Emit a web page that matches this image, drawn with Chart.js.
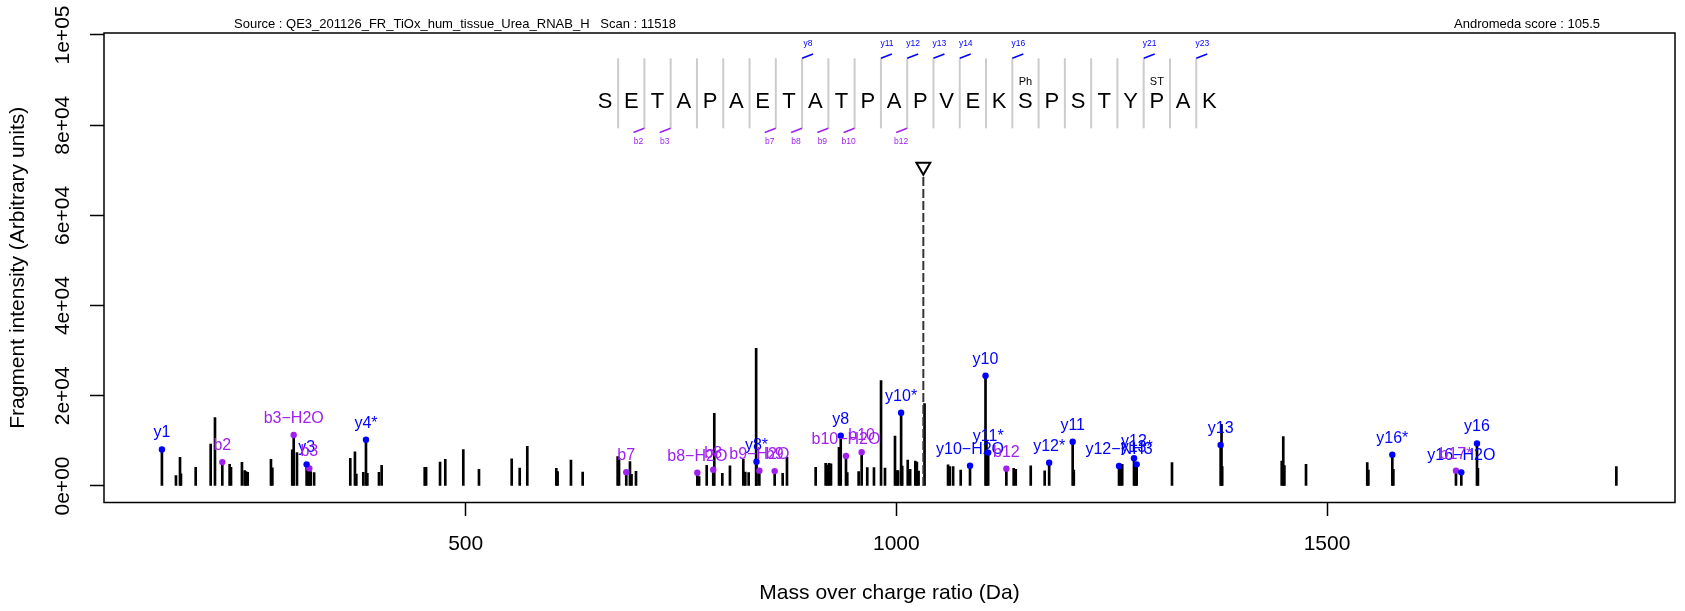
<!DOCTYPE html>
<html>
<head>
<meta charset="utf-8">
<script src="https://cdn.jsdelivr.net/npm/chart.js@4.4.1/dist/chart.umd.min.js"></script>
<style>
  html, body { margin: 0; padding: 0; background: #fff; }
  #wrap { width: 1685px; height: 611px; }
</style>
</head>
<body>
<div id="wrap"><canvas id="spectrum" width="1685" height="611"></canvas></div>
<script>
// Textes
const sourceText = "Source : QE3_201126_FR_TiOx_hum_tissue_Urea_RNAB_H   Scan : 11518";
const scoreText = "Andromeda score : 105.5";
const xTitle = "Mass over charge ratio (Da)";
const yTitle = "Fragment intensity (Arbitrary units)";

// Graduations
const xTickValues = [500, 1000, 1500];
const yTickValues = [0, 20000, 40000, 60000, 80000, 100000];
const yTickLabels = ["0e+00", "2e+04", "4e+04", "6e+04", "8e+04", "1e+05"];

// Pics non annotés
const peakMz = [163.6, 168.3, 169.4, 186.5, 203.9, 208.9, 225.9, 227.5, 240.2, 243.4, 244.9, 246.9,
  273.9, 275.5, 298.6, 304.1, 316.9, 320.0, 324.0, 366.0, 371.4, 373.0, 381.1, 385.8, 399.3, 402.4,
  452.4, 454.0, 470.2, 476.3, 497.2, 515.4, 553.4, 562.7, 571.5, 605.2, 606.7, 622.2, 635.8, 676.4,
  678.0, 690.7, 692.5, 697.7, 771.0, 779.8, 788.6, 797.9, 806.8, 822.3, 824.6, 828.5, 837.2, 868.0,
  873.0, 906.3, 917.9, 919.9, 921.8, 924.1, 933.4, 943.0, 956.2, 966.2, 974.0, 982.2, 986.8, 998.4,
  1000.5, 1002.0, 1006.8, 1013.2, 1016.0, 1022.0, 1023.8, 1025.8, 1032.7, 1060.0, 1062.0, 1065.9,
  1074.7, 1104.6, 1136.2, 1138.6, 1156.0, 1172.2, 1206.0, 1260.3, 1262.2, 1277.5, 1320.0, 1377.5,
  1378.3, 1447.4, 1449.2, 1450.5, 1475.6, 1546.7, 1548.0, 1577.0, 1675.2, 1835.9];
const peakIntensity = [2300, 6350, 2700, 4150, 9300, 15150, 4800, 4150, 5250, 3400, 3200, 3050,
  5900, 4050, 8000, 7400, 3900, 3200, 2950, 6150, 7550, 2650, 3050, 2800, 3050, 4600,
  4150, 4150, 5300, 5900, 8100, 3700, 6000, 4000, 8800, 3900, 3200, 5750, 3100, 6500,
  6100, 5400, 2600, 3250, 2100, 4600, 16100, 2800, 4450, 5900, 3100, 2950, 30500, 2800,
  6350, 4150, 5000, 4650, 5000, 4900, 8550, 2950, 3200, 4100, 4100, 23350, 4000, 11080,
  3400, 3400, 4430, 5760, 3700, 5540, 5300, 3330, 18300, 4700, 4300, 4300,
  3550, 10000, 3900, 3700, 4450, 3350, 3550, 4800, 4800, 5000, 5170, 13700,
  4300, 5540, 10930, 4500, 4800, 5170, 3550, 3700, 3900, 4280];

// Ions y
const yIonLabels = ["y1", "y3", "y4*", "y8*", "y8", "y10*", "y10\u2212H2O", "y10", "y11*", "y12*", "y11",
  "y12\u2212NH3", "y12", "y13*", "y13", "y16*", "y16\u2212H2O", "y16"];
const yIonMz = [147.3, 315.3, 384.2, 837.6, 935.4, 1005.5, 1085.5, 1103.5, 1106.6, 1177.4, 1204.7,
  1258.5, 1275.9, 1279.0, 1376.5, 1575.8, 1655.9, 1674.1];
const yIonIntensity = [8100, 4800, 10250, 5400, 11150, 16250, 4500, 24450, 7400, 5170, 9820,
  4450, 6150, 4800, 9100, 6950, 3030, 9450];

// Ions b
const bIonLabels = ["b2", "b3\u2212H2O", "b3", "b7", "b8\u2212H2O", "b8", "b9\u2212H2O", "b9", "b10\u2212H2O",
  "b10", "b12", "b17*"];
const bIonMz = [217.4, 300.3, 318.4, 686.4, 768.9, 787.4, 840.9, 858.7, 941.5, 959.7, 1127.7, 1649.7];
const bIonIntensity = [5300, 11300, 3900, 3050, 2950, 3600, 3400, 3300, 6650, 7500, 3850, 3400];

// Précurseur
const precursorMz = 1031.3;
const precursorTop = 68500;
const precursorMark = 70800;

// Séquence
const sequence = "SETAPAETATPAPVEKSPSTYPAK".split("");
const seqYIons = [8, 11, 12, 13, 14, 16, 21, 23];
const seqBIons = [2, 3, 7, 8, 9, 10, 12];
const seqModPos = [16, 21];
const seqModLabels = ["Ph", "ST"];

const seqStartMz = 661.7;
const seqStepMz = 30.51;
const seqCenter = 85650;

const FONT = "'Liberation Sans', Arial, Helvetica, sans-serif";
const BLUE = "#0000FF";
const PURPLE = "#A020F0";

const toXY = (xs, ys) => xs.map((v, i) => ({ x: v, y: ys[i] }));

const decorations = {
  id: "decorations",
  afterDraw(chart) {
    const { ctx, chartArea: a, scales: { x, y } } = chart;
    ctx.save();

    // cadre
    ctx.strokeStyle = "#000";
    ctx.lineWidth = 1.5;
    ctx.strokeRect(a.left, a.top, a.right - a.left, a.bottom - a.top);

    // graduations y (texte vertical)
    ctx.fillStyle = "#000";
    ctx.font = "21px " + FONT;
    ctx.textAlign = "center";
    ctx.textBaseline = "middle";
    yTickValues.forEach((v, i) => {
      ctx.save();
      ctx.translate(63, y.getPixelForValue(v));
      ctx.rotate(-Math.PI / 2);
      ctx.fillText(yTickLabels[i], 0, 0);
      ctx.restore();
    });

    // titres des axes
    ctx.save();
    ctx.translate(18, (a.top + a.bottom) / 2);
    ctx.rotate(-Math.PI / 2);
    ctx.fillText(yTitle, 0, 0);
    ctx.restore();
    ctx.fillText(xTitle, (a.left + a.right) / 2, 593);

    // en-tête
    ctx.font = "13px " + FONT;
    ctx.textBaseline = "alphabetic";
    ctx.textAlign = "left";
    ctx.fillText(sourceText, 234, 28);
    ctx.textAlign = "center";
    ctx.fillText(scoreText, 1527, 28);

    // étiquettes des ions
    ctx.font = "16px " + FONT;
    ctx.fillStyle = BLUE;
    yIonLabels.forEach((lab, i) => {
      ctx.fillText(lab, x.getPixelForValue(yIonMz[i]), y.getPixelForValue(yIonIntensity[i]) - 12);
    });
    ctx.fillStyle = PURPLE;
    bIonLabels.forEach((lab, i) => {
      ctx.fillText(lab, x.getPixelForValue(bIonMz[i]), y.getPixelForValue(bIonIntensity[i]) - 12);
    });

    // séquence peptidique
    const cy = y.getPixelForValue(seqCenter);
    const cx = i => x.getPixelForValue(seqStartMz + i * seqStepMz);
    const sepX = k => (cx(k - 1) + cx(k)) / 2;

    ctx.strokeStyle = "#cccccc";
    ctx.lineWidth = 2;
    for (let k = 1; k < sequence.length; k++) {
      ctx.beginPath();
      ctx.moveTo(sepX(k), cy - 41.4);
      ctx.lineTo(sepX(k), cy + 28.6);
      ctx.stroke();
    }

    ctx.fillStyle = "#000";
    ctx.font = "22px " + FONT;
    ctx.textAlign = "center";
    ctx.textBaseline = "alphabetic";
    sequence.forEach((aa, i) => ctx.fillText(aa, cx(i), cy + 8));

    ctx.font = "11px " + FONT;
    ctx.textBaseline = "middle";
    seqModPos.forEach((p, i) => ctx.fillText(seqModLabels[i], cx(p), cy - 17.4));

    ctx.font = "8.5px " + FONT;
    ctx.lineWidth = 1.5;
    ctx.strokeStyle = BLUE;
    ctx.fillStyle = BLUE;
    seqYIons.forEach(k => {
      const sx = sepX(k);
      ctx.beginPath();
      ctx.moveTo(sx, cy - 41.4);
      ctx.lineTo(sx + 11, cy - 45.7);
      ctx.stroke();
      ctx.fillText("y" + k, sx + 6, cy - 55.7);
    });
    ctx.strokeStyle = PURPLE;
    ctx.fillStyle = PURPLE;
    seqBIons.forEach(k => {
      const sx = sepX(k);
      ctx.beginPath();
      ctx.moveTo(sx, cy + 28.6);
      ctx.lineTo(sx - 11, cy + 32.8);
      ctx.stroke();
      ctx.fillText("b" + k, sx - 6, cy + 42);
    });

    ctx.restore();
  }
};

const allMz = peakMz.concat(yIonMz, bIonMz);
const allIntensity = peakIntensity.concat(yIonIntensity, bIonIntensity);

new Chart(document.getElementById("spectrum"), {
  type: "bar",
  data: {
    datasets: [
      {
        type: "scatter",
        data: toXY(yIonMz, yIonIntensity),
        pointRadius: 3.2,
        pointBackgroundColor: BLUE,
        pointBorderWidth: 0,
        order: 0
      },
      {
        type: "scatter",
        data: toXY(bIonMz, bIonIntensity),
        pointRadius: 3.2,
        pointBackgroundColor: PURPLE,
        pointBorderWidth: 0,
        order: 0
      },
      {
        type: "scatter",
        data: [{ x: precursorMz, y: precursorMark }],
        pointStyle: "triangle",
        rotation: 180,
        pointRadius: 8,
        pointBackgroundColor: "#fff",
        pointBorderColor: "#000",
        pointBorderWidth: 2,
        order: 1
      },
      {
        type: "line",
        data: [{ x: precursorMz, y: 0 }, { x: precursorMz, y: precursorTop }],
        borderColor: "#333",
        borderWidth: 2,
        borderDash: [9, 3],
        pointRadius: 0,
        order: 2
      },
      {
        data: toXY(allMz, allIntensity),
        backgroundColor: "#000",
        borderWidth: 0,
        barThickness: 2,
        order: 3
      }
    ]
  },
  options: {
    responsive: false,
    devicePixelRatio: 1,
    animation: false,
    layout: { padding: { top: 33, right: 10, bottom: 0, left: 0 } },
    plugins: { legend: { display: false }, tooltip: { enabled: false } },
    scales: {
      x: {
        type: "linear",
        offset: false,
        min: 80.05,
        max: 1904,
        afterBuildTicks: s => { s.ticks = xTickValues.map(v => ({ value: v })); },
        afterFit: s => { s.height = 108.5; },
        border: { display: false },
        grid: { offset: false, drawOnChartArea: false, drawTicks: true, tickLength: 13.5, tickWidth: 1.5, tickColor: "#000" },
        ticks: {
          autoSkip: false,
          maxRotation: 0,
          padding: 16,
          color: "#000",
          font: { size: 21, family: FONT },
          callback: v => String(v)
        }
      },
      y: {
        type: "linear",
        min: -3659,
        max: 100443,
        afterBuildTicks: s => { s.ticks = yTickValues.map(v => ({ value: v })); },
        afterFit: s => { s.width = 104; },
        border: { display: false },
        grid: { drawOnChartArea: false, drawTicks: true, tickLength: 14, tickWidth: 1.5, tickColor: "#000" },
        ticks: { display: false }
      }
    }
  },
  plugins: [decorations]
});
</script>
</body>
</html>
